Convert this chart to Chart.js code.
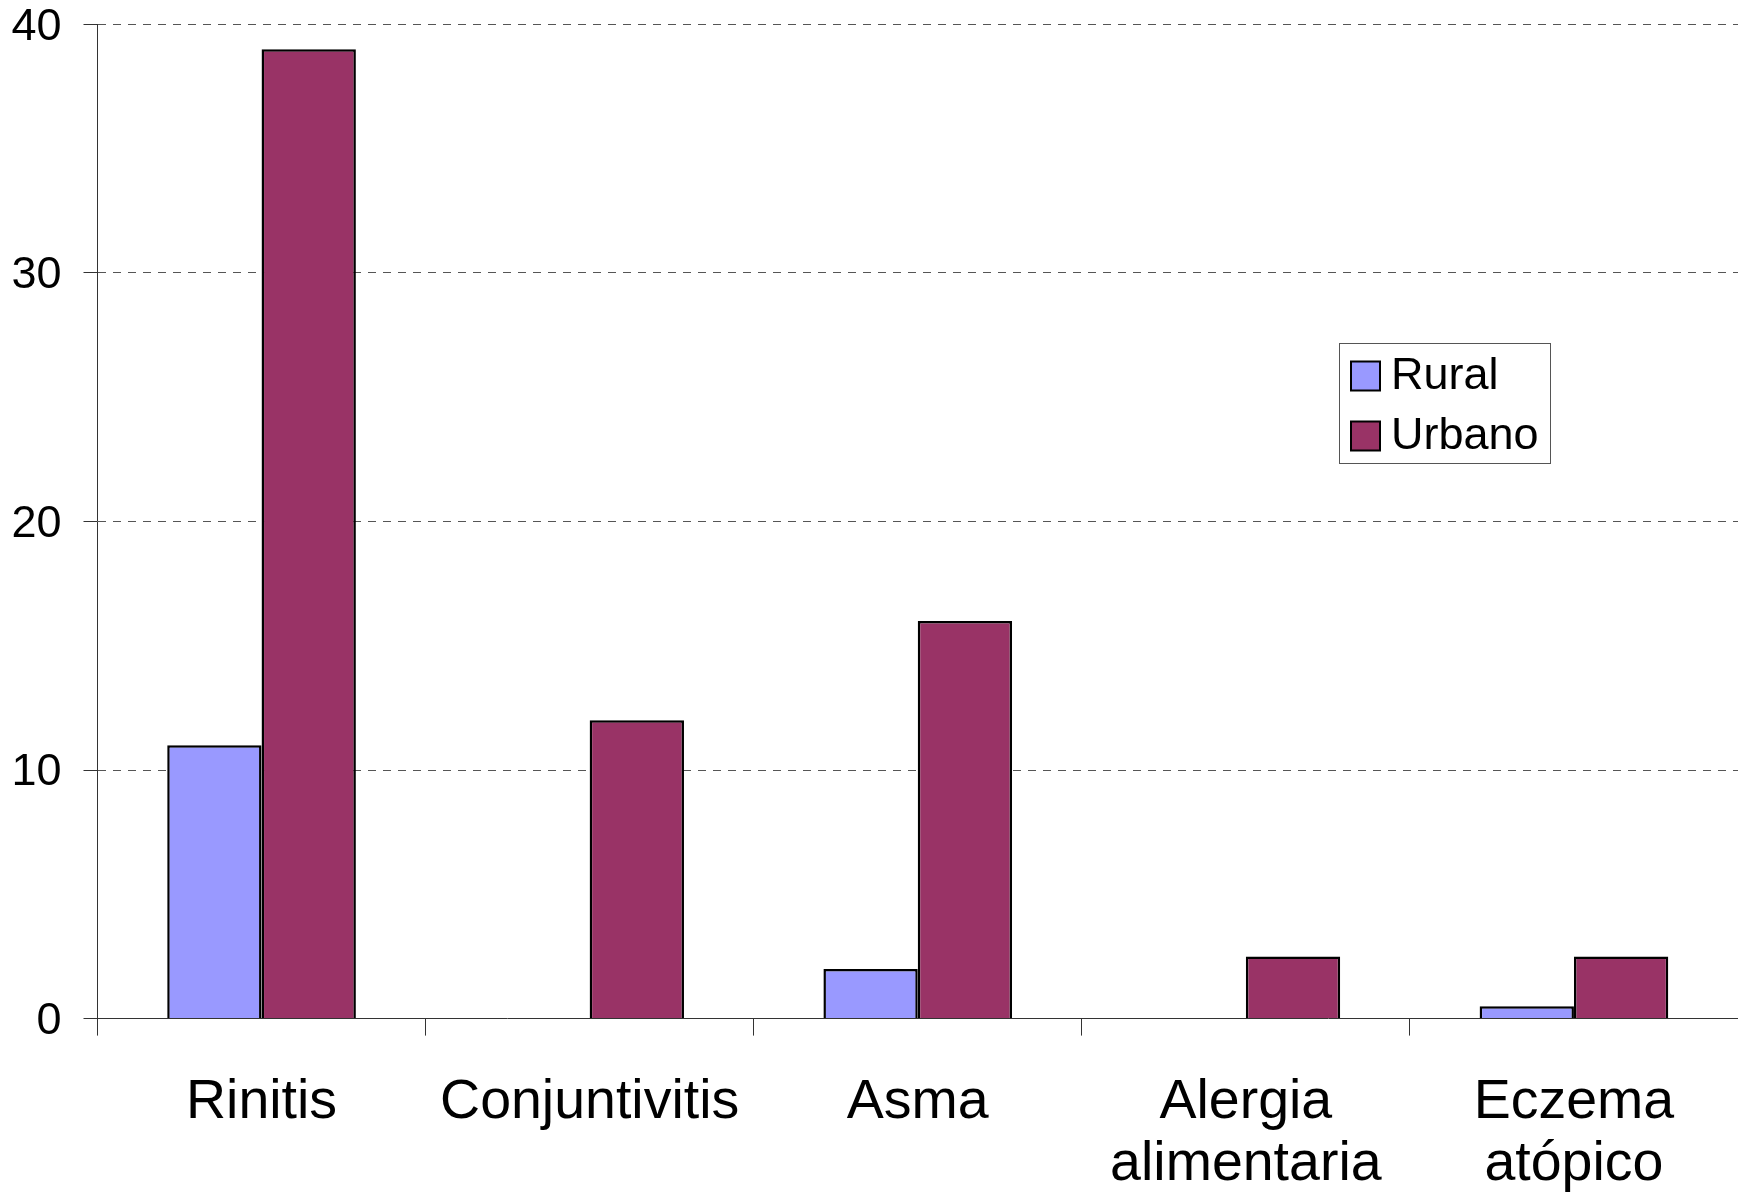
<!DOCTYPE html>
<html>
<head>
<meta charset="utf-8">
<script src="https://cdn.jsdelivr.net/npm/chart.js@4/dist/chart.umd.min.js"></script>
<style>
  html, body { margin: 0; padding: 0; background: #ffffff; }
  #wrap { width: 1738px; height: 1195px; }
</style>
</head>
<body>
<div id="wrap"><canvas id="c" width="1738" height="1195"></canvas></div>
<script>
// Prevalence of allergic conditions by setting
const categories = ['Rinitis', 'Conjuntivitis', 'Asma', ['Alergia', 'alimentaria'], ['Eczema', 'atópico']];
const seriesNames = ['Rural', 'Urbano'];
const ruralValues = [11, 0, 2, 0, 0.5];
const urbanValues = [39, 12, 16, 2.5, 2.5];
const yTicks = [0, 10, 20, 30, 40];

const FONT = '"Liberation Sans", Arial, sans-serif';

// Boxed legend drawn inside the plot area, right of the middle
const boxLegend = {
  id: 'boxLegend',
  afterDraw(chart, args, opts) {
    const ctx = chart.ctx;
    const { x, y, w, h, swatch, rowGap, fontSize } = opts;
    ctx.save();
    ctx.fillStyle = '#ffffff';
    ctx.fillRect(x, y, w, h);
    ctx.strokeStyle = '#555555';
    ctx.lineWidth = 1;
    ctx.strokeRect(x + 0.5, y + 0.5, w, h);
    ctx.font = fontSize + 'px ' + FONT;
    ctx.textBaseline = 'middle';
    ctx.textAlign = 'left';
    chart.data.datasets.forEach((ds, i) => {
      const cy = y + 33 + i * rowGap;
      const sx = x + 12;
      ctx.fillStyle = ds.backgroundColor;
      ctx.fillRect(sx, cy - swatch / 2, swatch, swatch);
      ctx.strokeStyle = '#000000';
      ctx.lineWidth = 2;
      ctx.strokeRect(sx, cy - swatch / 2, swatch, swatch);
      ctx.fillStyle = '#000000';
      ctx.fillText(ds.label, sx + swatch + 11, cy + 1);
    });
    ctx.restore();
  }
};

new Chart(document.getElementById('c'), {
  type: 'bar',
  data: {
    labels: categories,
    datasets: [
      { label: seriesNames[0], data: ruralValues, backgroundColor: '#9999FF', borderColor: '#000000', borderWidth: 2.5, borderSkipped: 'bottom' },
      { label: seriesNames[1], data: urbanValues, backgroundColor: '#993366', borderColor: '#000000', borderWidth: 2.5, borderSkipped: 'bottom' }
    ]
  },
  options: {
    responsive: false,
    animation: false,
    devicePixelRatio: 1,
    layout: { padding: { top: 24.4, right: 0, bottom: 0, left: 0 } },
    datasets: { bar: { categoryPercentage: 0.575, barPercentage: 1.0 } },
    plugins: {
      legend: { display: false },
      tooltip: { enabled: false },
      boxLegend: { x: 1339, y: 343, w: 211, h: 120, swatch: 29, rowGap: 60, fontSize: 45 }
    },
    scales: {
      x: {
        offset: true,
        grid: {
          offset: true,
          drawOnChartArea: false,
          drawTicks: true,
          tickLength: 17,
          tickColor: '#333333',
          tickWidth: 1
        },
        border: { display: true, color: '#333333', width: 1 },
        ticks: {
          color: '#000000',
          padding: 36,
          maxRotation: 0,
          autoSkip: false,
          font: { family: FONT, size: 55.5, lineHeight: 1.12 }
        },
        afterFit(scale) { scale.height = 176.4; }
      },
      y: {
        min: 0,
        max: 40,
        afterBuildTicks(scale) { scale.ticks = yTicks.map(v => ({ value: v })); },
        grid: {
          color: (c) => (c.tick && c.tick.value === 0) ? 'rgba(0,0,0,0)' : '#555555',
          lineWidth: 1,
          drawTicks: true,
          tickLength: 14,
          tickColor: '#333333',
          tickBorderDash: [],
          tickWidth: 1
        },
        border: { display: true, color: '#333333', width: 1, dash: [8, 7] },
        ticks: {
          color: '#000000',
          padding: 22,
          labelOffset: 3,
          font: { family: FONT, size: 45, lineHeight: 1.1 }
        },
        afterFit(scale) {
          scale.width = 97.5;
          scale.paddingTop = 0;
          scale.paddingBottom = 0;
        }
      }
    }
  },
  plugins: [boxLegend]
});
</script>
</body>
</html>
